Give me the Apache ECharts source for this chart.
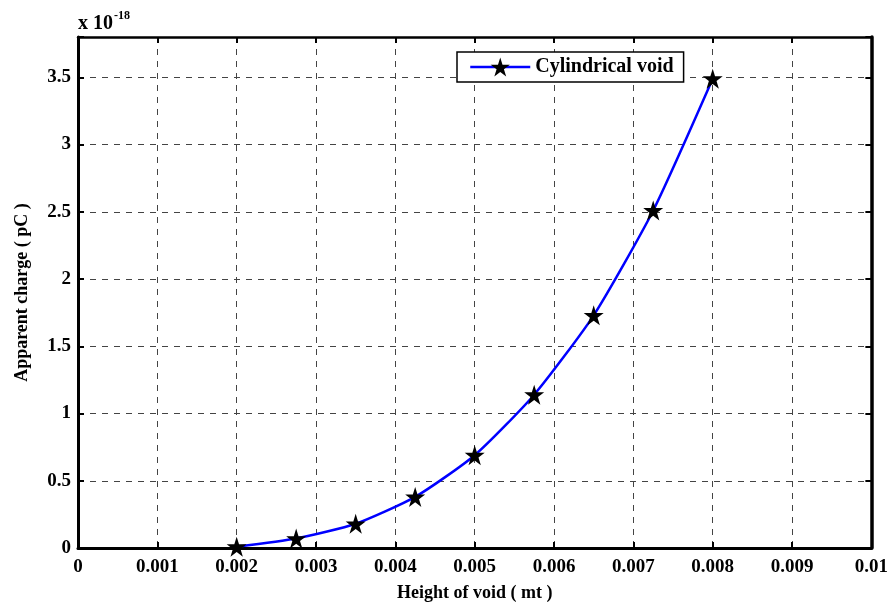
<!DOCTYPE html>
<html>
<head>
<meta charset="utf-8">
<script src="https://cdn.jsdelivr.net/npm/echarts@6/dist/echarts.min.js"></script>
<style>
html,body{margin:0;padding:0;background:#fff;}
#c{width:891px;height:607px;}
</style>
</head>
<body>
<div id="c"></div>
<script>
// Height of void (mt)
var heights = [0.002, 0.00275, 0.0035, 0.00425, 0.005, 0.00575, 0.0065, 0.00725, 0.008];
// Apparent charge (pC), in units of 1e-18
var charges = [0.01, 0.07, 0.18, 0.38, 0.69, 1.14, 1.73, 2.51, 3.49];
var seriesName = 'Cylindrical void';
var xTitle = 'Height of void ( mt )';
var yTitle = 'Apparent charge ( pC )';
var exponentBase = 'x 10';
var exponentPow = '-18';

var FONT = '"Liberation Serif", "Times New Roman", serif';
var STAR = 'path://M50,0 L61.2,34.5 L97.6,34.5 L68.2,55.9 L79.4,90.5 L50,69.1 L20.6,90.5 L31.8,55.9 L2.4,34.5 L38.8,34.5 Z';

var data = heights.map(function (h, i) { return [h, charges[i]]; });

var chart = echarts.init(document.getElementById('c'), null, {renderer: 'canvas'});
var gridLine = {show: true, lineStyle: {color: '#444', type: [6, 6], width: 1}};
var labelStyle = {color: '#000', fontFamily: FONT, fontWeight: 'bold', fontSize: 19};

chart.setOption({
  animation: false,
  backgroundColor: '#fff',
  grid: {left: 78, right: 19, top: 37, bottom: 51, containLabel: false},
  graphic: [{
    type: 'text',
    left: 78, top: 10,
    style: {
      text: '{a|' + exponentBase + '}{b|' + exponentPow + '}',
      rich: {
        a: {fontFamily: FONT, fontWeight: 'bold', fontSize: 20, fill: '#000', verticalAlign: 'bottom', lineHeight: 24},
        b: {fontFamily: FONT, fontWeight: 'bold', fontSize: 12, fill: '#000', verticalAlign: 'top', lineHeight: 24, padding: [0, 0, 14, 1]}
      }
    }
  }],
  legend: {
    show: true,
    left: 457, top: 52,
    padding: [5, 10, 5, 12],
    itemWidth: 60, itemHeight: 24,
    backgroundColor: '#fff',
    borderColor: '#000', borderWidth: 1.5,
    lineStyle: {width: 2.5, color: '#0000ff'},
    itemStyle: {color: '#000', borderWidth: 0},
    textStyle: {fontFamily: FONT, fontWeight: 'bold', fontSize: 20, color: '#000'},
    data: [seriesName]
  },
  xAxis: [{
    type: 'value', min: 0, max: 0.01, interval: 0.001,
    position: 'bottom',
    name: xTitle, nameLocation: 'middle', nameGap: 36,
    nameTextStyle: {fontFamily: FONT, fontWeight: 'bold', fontSize: 18, color: '#000'},
    axisLine: {show: true, onZero: false, lineStyle: {color: '#000', width: 3}},
    axisTick: {show: true, inside: true, length: 6, lineStyle: {color: '#000', width: 2}},
    axisLabel: Object.assign({margin: 10, formatter: function (v) { return String(+v.toFixed(4)); }}, labelStyle),
    splitLine: gridLine
  }, {
    type: 'value', min: 0, max: 0.01, interval: 0.001,
    position: 'top',
    axisLine: {show: true, onZero: false, lineStyle: {color: '#000', width: 2.5}},
    axisTick: {show: true, inside: true, length: 6, lineStyle: {color: '#000', width: 2}},
    axisLabel: {show: false},
    splitLine: {show: false}
  }],
  yAxis: [{
    type: 'value', min: 0, max: 3.8, interval: 0.5,
    position: 'left',
    name: yTitle, nameLocation: 'middle', nameGap: 47,
    nameTextStyle: {fontFamily: FONT, fontWeight: 'bold', fontSize: 18, color: '#000'},
    axisLine: {show: true, onZero: false, lineStyle: {color: '#000', width: 3}},
    axisTick: {show: true, inside: true, length: 6, lineStyle: {color: '#000', width: 2}},
    axisLabel: Object.assign({margin: 7, formatter: function (v) {
      var r = Math.round(v * 2) / 2;
      return Math.abs(r - v) < 1e-9 ? String(r) : '';
    }}, labelStyle),
    splitLine: gridLine
  }, {
    type: 'value', min: 0, max: 3.8, interval: 0.5,
    position: 'right',
    axisLine: {show: true, onZero: false, lineStyle: {color: '#000', width: 3.5}},
    axisTick: {show: true, inside: true, length: 6, lineStyle: {color: '#000', width: 2}},
    axisLabel: {show: false},
    splitLine: {show: false}
  }],
  series: [{
    name: seriesName,
    type: 'line',
    data: data,
    smooth: 0.2,
    symbol: STAR,
    symbolSize: 20,
    showAllSymbol: true,
    lineStyle: {color: '#0000ff', width: 2.5},
    itemStyle: {color: '#000', borderColor: '#000', borderWidth: 0},
    z: 5
  }]
});
</script>
</body>
</html>
